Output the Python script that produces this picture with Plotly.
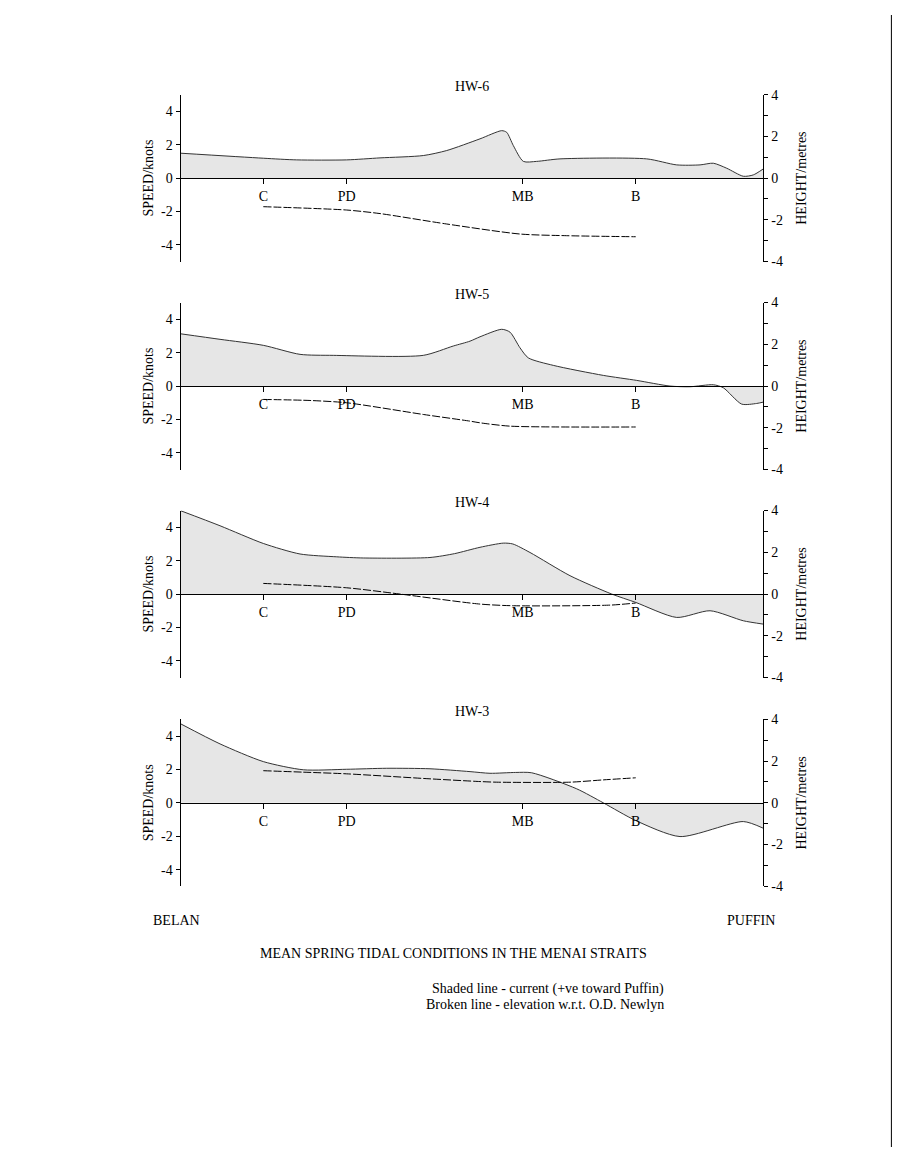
import plotly.graph_objects as go

# ---- data (x: distance along strait, 0 = Belan, 100 = Puffin) ----
panel_titles = ["HW-6", "HW-5", "HW-4", "HW-3"]
site_pos = [14.18, 28.5, 58.7, 78.1]
site_labels = ["C", "PD", "MB", "B"]

hw6_cur_x = [0, 14.18, 19.91, 28.49, 34.21, 41.64, 45.66, 51.37, 55.10, 55.96, 57.09, 58.81, 61.10, 65.10, 79.99, 85.14, 89.14, 91.42, 93.72, 96.57, 98.28, 100]
hw6_cur_y = [1.49, 1.19, 1.09, 1.09, 1.21, 1.35, 1.65, 2.35, 2.84, 2.74, 1.95, 1.0, 1.0, 1.15, 1.15, 0.79, 0.79, 0.89, 0.59, 0.11, 0.19, 0.55]
hw6_el_x = [14.18, 28.49, 34.21, 45.66, 58.24, 66.25, 78.10]
hw6_el_y = [-1.37, -1.53, -1.70, -2.2, -2.68, -2.76, -2.81]

hw5_cur_x = [0, 6.75, 14.18, 20.48, 26.19, 41.64, 46.79, 49.66, 51.37, 55.10, 56.52, 58.24, 59.66, 63.95, 72.54, 78.27, 83.99, 87.42, 91.42, 93.13, 96.29, 98.87, 100]
hw5_cur_y = [3.13, 2.8, 2.44, 1.9, 1.84, 1.84, 2.4, 2.69, 2.95, 3.4, 3.23, 2.29, 1.69, 1.24, 0.64, 0.34, 0.0, -0.04, 0.08, -0.1, -1.08, -1.04, -0.96]
hw5_el_x = [14.18, 22.19, 28.49, 41.64, 49.66, 51.37, 56.52, 78.10]
hw5_el_y = [-0.64, -0.69, -0.80, -1.36, -1.68, -1.76, -1.92, -1.96]

hw4_cur_x = [0, 6.75, 14.18, 20.48, 26.78, 31.34, 42.79, 47.0, 51.37, 55.37, 57.0, 59.95, 66.82, 73.98, 78.10, 85.14, 90.86, 96.57, 100]
hw4_cur_y = [4.99, 4.09, 3.03, 2.4, 2.23, 2.16, 2.19, 2.42, 2.8, 3.05, 3.0, 2.49, 1.1, 0.0, -0.5, -1.4, -1.0, -1.6, -1.8]
hw4_el_x = [14.18, 28.49, 37.64, 51.37, 57.09, 73.69, 78.10]
hw4_el_y = [0.51, 0.30, 0.0, -0.48, -0.56, -0.53, -0.43]

hw3_cur_x = [0, 6.75, 14.18, 21.04, 28.49, 35.36, 42.79, 49.66, 53.09, 57.5, 60.25, 67.97, 72.54, 78.10, 85.70, 96.57, 100]
hw3_cur_y = [4.73, 3.53, 2.47, 1.98, 2.01, 2.07, 2.04, 1.87, 1.77, 1.82, 1.8, 0.84, 0.0, -1.06, -2.02, -1.12, -1.52]
hw3_el_x = [14.18, 21.04, 28.49, 42.79, 51.37, 54.24, 66.82, 72.54, 78.10]
hw3_el_y = [1.54, 1.47, 1.39, 1.15, 1.02, 0.99, 0.99, 1.1, 1.2]

speed_ticks = [-4, -2, 0, 2, 4]
height_ticks = [-4, -3, -2, -1, 0, 1, 2, 3, 4]
height_ticktext = ["-4", "", "-2", "", "0", "", "2", "", "4"]

panels = [
    (hw6_cur_x, hw6_cur_y, hw6_el_x, hw6_el_y),
    (hw5_cur_x, hw5_cur_y, hw5_el_x, hw5_el_y),
    (hw4_cur_x, hw4_cur_y, hw4_el_x, hw4_el_y),
    (hw3_cur_x, hw3_cur_y, hw3_el_x, hw3_el_y),
]

# ---- layout geometry: figure sized to fit inside the page's 8px body margin ----
OFF = 8
W, H = 900 - 2 * OFF, 1163 - 2 * OFF
FONT = "Liberation Serif"
FS = 14
VS = 0.987   # vertical calibration
VO = 6.5


def fy(r):
    """target vertical page pixel -> figure pixel (from top)"""
    return (r - VO) / VS - OFF


x_left, x_right = 180.7 - OFF, 763.3 - OFF
zeros_ref = [177.5, 385.5, 593.5, 802.3]
half = 83.5 / VS

fig = go.Figure()
layout = dict(
    width=W, height=H,
    margin=dict(l=0, r=0, t=0, b=0),
    paper_bgcolor="white", plot_bgcolor="white",
    showlegend=False,
    font=dict(family=FONT, size=FS, color="black"),
)
annotations = []

for i, (cx, cy, ex, ey) in enumerate(panels):
    n = i + 1
    xa = f"x{n}" if n > 1 else "x"
    yl = 2 * n - 1
    yr = 2 * n
    yl_name = f"y{yl}" if yl > 1 else "y"
    yr_name = f"y{yr}"
    z = fy(zeros_ref[i])
    dom = [1 - (z + half) / H, 1 - (z - half) / H]

    fig.add_trace(go.Scatter(
        x=cx, y=cy, xaxis=xa, yaxis=yl_name, mode="lines",
        line=dict(color="#333333", width=1, shape="spline", smoothing=0.7),
        fill="tozeroy", fillcolor="#e6e6e6", hoverinfo="skip"))
    fig.add_trace(go.Scatter(
        x=ex, y=ey, xaxis=xa, yaxis=yr_name, mode="lines",
        line=dict(color="black", width=1, dash="8px,2px", shape="spline", smoothing=0.7),
        hoverinfo="skip"))

    xkey = "xaxis" if n == 1 else f"xaxis{n}"
    ylkey = "yaxis" if yl == 1 else f"yaxis{yl}"
    yrkey = f"yaxis{yr}"

    layout[xkey] = dict(
        domain=[x_left / W, x_right / W], range=[0, 100],
        anchor="free", position=(dom[0] + dom[1]) / 2,
        showline=True, linecolor="black", linewidth=1.3,
        showgrid=False, zeroline=False,
        ticks="outside", ticklen=5, tickcolor="black", tickwidth=1,
        tickvals=site_pos, ticktext=site_labels,
        tickfont=dict(family=FONT, size=FS, color="black"),
    )
    layout[ylkey] = dict(
        domain=dom, range=[-5, 5], anchor=xa,
        showline=True, linecolor="black", linewidth=1.3,
        showgrid=False, zeroline=False,
        ticks="outside", ticklen=4, tickcolor="black",
        tickvals=speed_ticks, ticktext=[str(v) for v in speed_ticks],
        tickfont=dict(family=FONT, size=FS, color="black"),
        title=dict(text="SPEED/knots", font=dict(family=FONT, size=FS, color="black"), standoff=4),
    )
    layout[yrkey] = dict(
        domain=dom, range=[-4, 4], anchor=xa, overlaying=yl_name, side="right",
        showline=True, linecolor="black", linewidth=1.3,
        showgrid=False, zeroline=False,
        ticks="outside", ticklen=4, tickcolor="black",
        tickvals=height_ticks, ticktext=height_ticktext,
        tickfont=dict(family=FONT, size=FS, color="black"),
        title=dict(text="HEIGHT/metres", font=dict(family=FONT, size=FS, color="black"), standoff=14),
    )
    annotations.append(dict(
        text=panel_titles[i], xref="paper", yref="paper",
        x=(x_left + x_right) / 2 / W, y=1 - fy(zeros_ref[i] - 91.5) / H,
        xanchor="center", yanchor="middle", showarrow=False,
        font=dict(family=FONT, size=FS, color="black")))


def txt(s, px, py, xanchor="center"):
    annotations.append(dict(text=s, xref="paper", yref="paper", x=(px - OFF) / W, y=1 - fy(py) / H,
                            xanchor=xanchor, yanchor="middle", showarrow=False,
                            font=dict(family=FONT, size=FS, color="black")))


txt("BELAN", 176, 920)
txt("PUFFIN", 751, 920)
txt("MEAN SPRING TIDAL CONDITIONS IN THE MENAI STRAITS", 453, 953)
txt("Shaded line - current (+ve toward Puffin)", 666, 988, "right")
txt("Broken line - elevation w.r.t. O.D. Newlyn", 666, 1004, "right")

layout["annotations"] = annotations
layout["shapes"] = [dict(type="line", xref="paper", yref="paper", x0=1 - 0.6 / W, x1=1 - 0.6 / W,
                         y0=0, y1=1, line=dict(color="black", width=1))]
fig.update_layout(**layout)
fig.write_html("out.html")
